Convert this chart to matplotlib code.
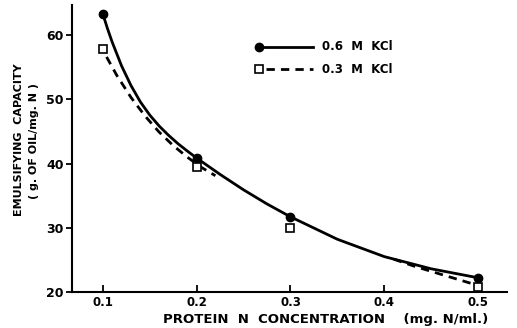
import matplotlib
matplotlib.use("Agg")
import matplotlib.pyplot as plt
from matplotlib.lines import Line2D

# measured points
conc = [0.1, 0.2, 0.3, 0.5]
kcl06 = [63.3, 40.8, 31.6, 22.2]
kcl03 = [57.8, 39.4, 29.9, 20.8]

# smooth curves
solid_x = [0.1, 0.105, 0.11, 0.12, 0.13, 0.14, 0.15, 0.16, 0.17, 0.18, 0.19, 0.2,
           0.225, 0.25, 0.275, 0.3, 0.35, 0.4, 0.45, 0.5]
solid_y = [63.3, 61.0, 58.9, 55.2, 52.15, 49.6, 47.55, 45.85, 44.4, 43.1, 41.95, 40.85,
           38.3, 35.9, 33.7, 31.7, 28.2, 25.5, 23.6, 22.2]
dash_x = [0.104, 0.115, 0.13, 0.145, 0.16, 0.175, 0.19, 0.205, 0.22]
dash_y = [56.6, 53.7, 50.3, 47.4, 44.9, 42.8, 41.0, 39.4, 38.1]
dash2_x = [0.41, 0.43, 0.45, 0.475, 0.5]
dash2_y = [25.1, 24.1, 23.2, 22.1, 21.0]

xticks = [0.1, 0.2, 0.3, 0.4, 0.5]
yticks = [20, 30, 40, 50, 60]

fig = plt.figure(figsize=(5.17, 3.28), dpi=100)
ax = fig.add_axes([0.139, 0.110, 0.842, 0.875])
ax.set_xlim(0.067, 0.531)
ax.set_ylim(20, 64.7)

ax.plot(solid_x, solid_y, color="black", lw=2.0, solid_capstyle="round", solid_joinstyle="round")
ax.plot(dash_x, dash_y, color="black", lw=2.0, ls=(0, (3, 2.2)))
ax.plot(dash2_x, dash2_y, color="black", lw=2.0, ls=(0, (3, 2.2)))
ax.plot(conc, kcl06, "o", color="black", ms=6)
ax.plot(conc, kcl03, "s", mfc="white", mec="black", mew=1.2, ms=5.5)

for s in ["top", "right"]:
    ax.spines[s].set_visible(False)
for s in ["left", "bottom"]:
    ax.spines[s].set_linewidth(1.5)

ax.set_xticks(xticks)
ax.set_xticklabels([f"{v:.1f}" for v in xticks])
ax.set_yticks(yticks)
ax.tick_params(axis="x", direction="in", length=5, width=1.3, labelsize=8.5, pad=3)
ax.tick_params(axis="y", direction="out", length=4, width=1.3, labelsize=9, pad=2)
for lab in ax.get_xticklabels() + ax.get_yticklabels():
    lab.set_fontweight("bold")

# legend drawn manually
t = ax.transAxes
ax.add_line(Line2D([0.43, 0.553], [0.855, 0.855], transform=t, color="black", lw=2.0))
ax.add_line(Line2D([0.43], [0.855], transform=t, marker="o", color="black", ms=6))
ax.text(0.575, 0.855, "0.6  M  KCl", transform=t, va="center", ha="left", fontsize=8.5, fontweight="bold")
ax.add_line(Line2D([0.445, 0.553], [0.775, 0.775], transform=t, color="black", lw=2.0, ls=(0, (3, 2.2))))
ax.add_line(Line2D([0.43], [0.775], transform=t, marker="s", mfc="white", mec="black", mew=1.2, ms=5.5))
ax.text(0.575, 0.775, "0.3  M  KCl", transform=t, va="center", ha="left", fontsize=8.5, fontweight="bold")

fig.text(0.63, 0.026, "PROTEIN  N  CONCENTRATION    (mg. N/ml.)", ha="center", va="center",
         fontsize=9.5, fontweight="bold")
fig.text(0.037, 0.573, "EMULSIFYING  CAPACITY", rotation=90, ha="center", va="center",
         fontsize=8, fontweight="bold")
fig.text(0.066, 0.57, "( g. OF OIL/mg. N )", rotation=90, ha="center", va="center",
         fontsize=8, fontweight="bold")

fig.savefig("out.png", dpi=100)
